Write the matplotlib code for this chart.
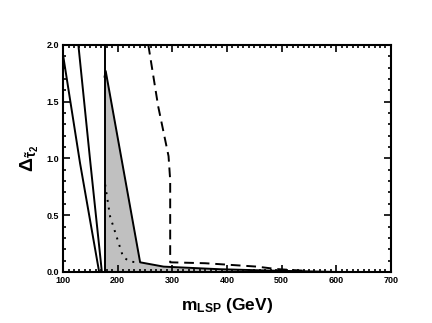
import matplotlib
matplotlib.use("Agg")
import matplotlib.pyplot as plt
from matplotlib.ticker import MultipleLocator

plt.rcParams['font.family'] = ['Liberation Sans', 'DejaVu Sans']
plt.rcParams['font.weight'] = 'bold'
plt.rcParams['mathtext.fontset'] = 'custom'
plt.rcParams['mathtext.rm'] = 'Liberation Sans:bold'
plt.rcParams['mathtext.it'] = 'Liberation Sans:bold'
plt.rcParams['mathtext.bf'] = 'Liberation Sans:bold'

# solid curves on the left
m_a = [100, 131, 166]
d_a = [1.91, 0.96, 0.0]
m_b = [128, 150, 171]
d_b = [2.0, 0.96, 0.0]
m_c = [176, 176]
d_c = [0.0, 2.0]

# upper edge of the shaded band
m_band = [176, 178, 241, 284, 387, 480, 540, 600]
d_band = [1.72, 1.77, 0.085, 0.047, 0.024, 0.012, 0.006, 0.0]

# dotted curve
m_dot = [177, 186, 198, 210, 223, 241]
d_dot = [0.77, 0.49, 0.31, 0.13, 0.09, 0.085]

# dashed curve
m_dash = [256, 274, 293, 296, 296, 360, 455, 490, 515, 545]
d_dash = [2.0, 1.46, 1.02, 0.81, 0.085, 0.077, 0.047, 0.026, 0.018, 0.01]

fig = plt.figure(figsize=(4.32, 3.23), dpi=100)
ax = fig.add_axes([0.146, 0.158, 0.759, 0.703])

ax.fill_between(m_band, 0, d_band, color='#c0c0c0', lw=0)
ax.plot(m_band, d_band, color='black', lw=1.4)
ax.plot(m_a, d_a, color='black', lw=1.4)
ax.plot(m_b, d_b, color='black', lw=1.4)
ax.plot(m_c, d_c, color='black', lw=1.4)
ax.plot(m_dot, d_dot, color='black', lw=1.4, linestyle=(0, (1, 3)))
ax.plot(m_dash, d_dash, color='black', lw=1.4, linestyle=(0, (5, 3)))

ax.set_xlim(100, 700)
ax.set_ylim(0, 2.0)
ax.xaxis.set_major_locator(MultipleLocator(100))
ax.xaxis.set_minor_locator(MultipleLocator(10))
ax.yaxis.set_major_locator(MultipleLocator(0.5))
ax.yaxis.set_minor_locator(MultipleLocator(0.1))
ax.yaxis.set_major_formatter(plt.FormatStrFormatter('%.1f'))
ax.tick_params(which='both', direction='in', top=True, right=True, width=1.2)
ax.tick_params(which='major', length=5, labelsize=6.5, pad=3)
ax.tick_params(which='minor', length=2.5)
for s in ax.spines.values():
    s.set_linewidth(1.5)

ax.set_xlabel(r'$\mathrm{m}_{\mathrm{LSP}}$ (GeV)', fontsize=12.5, fontweight='bold', labelpad=8)
ax.set_ylabel(r'$\Delta_{\tilde{\tau}_2}$', fontsize=14, labelpad=4)

fig.savefig('out.png', dpi=100)
